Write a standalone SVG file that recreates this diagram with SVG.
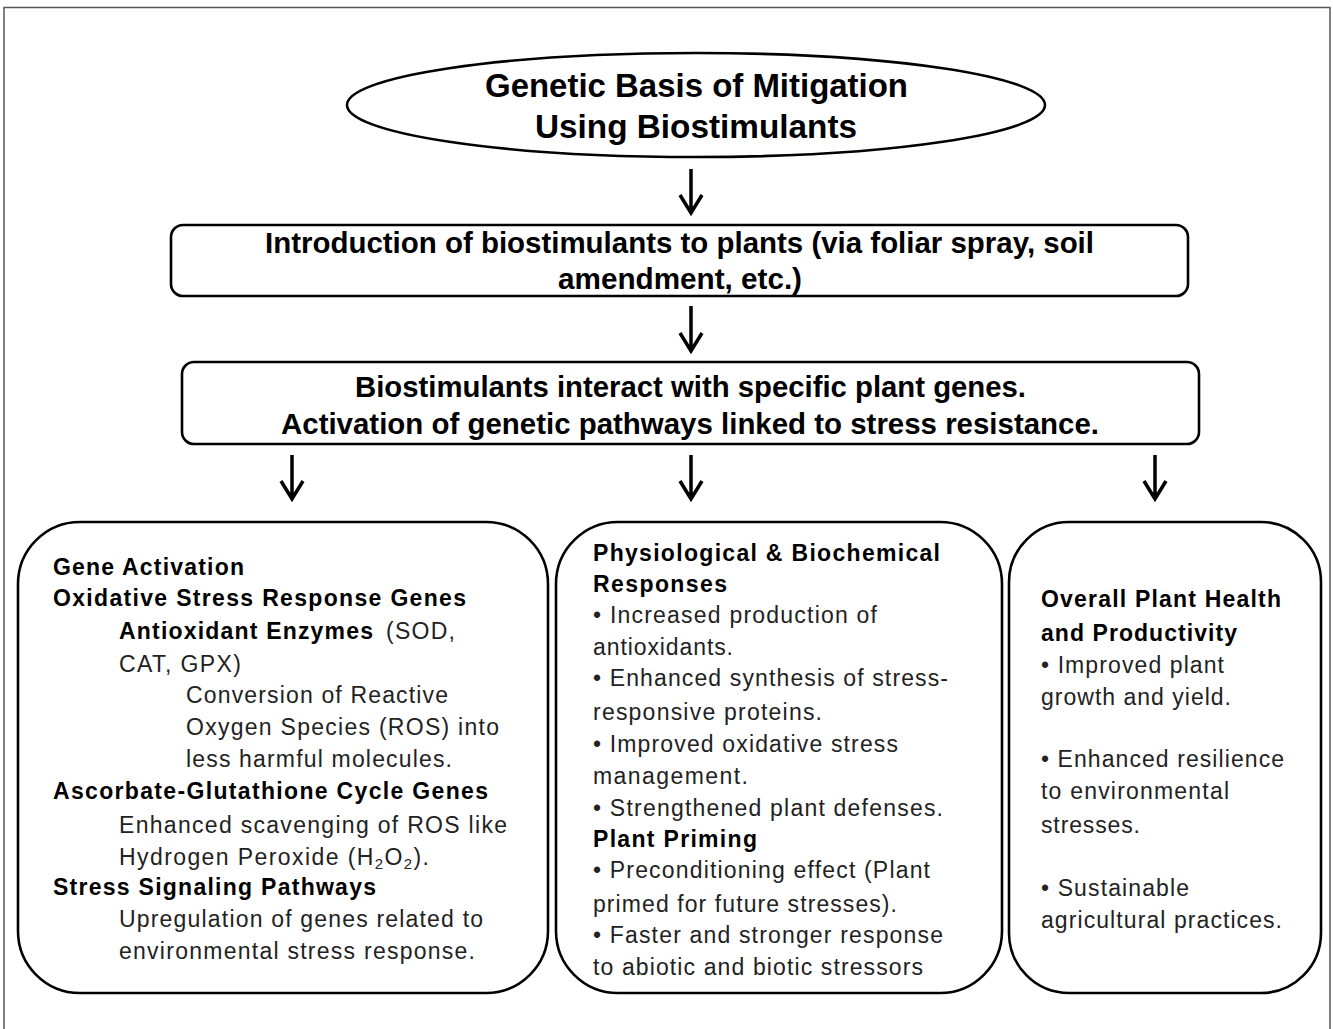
<svg xmlns="http://www.w3.org/2000/svg" width="1333" height="1029" viewBox="0 0 1333 1029">
<style>
  text { font-family: "Liberation Sans", Arial, sans-serif; }
  .frame { fill: none; stroke: #555; stroke-width: 1.5; }
  .shape { fill: #fff; stroke: #000; stroke-width: 2.6; }
  .hd { font-size: 29px; font-weight: bold; fill: #000; }
  .ttl { font-size: 33px; font-weight: bold; fill: #000; }
  .b { font-size: 23px; font-weight: bold; fill: #000; }
  .r { font-size: 23px; fill: #222; }
  .arr { fill: none; stroke: #000; stroke-width: 3.5; stroke-linecap: butt; stroke-linejoin: miter; }
</style>
<rect width="1333" height="1029" fill="#fff"/>
<rect class="frame" x="4" y="7.5" width="1326" height="1040"/>

<g id="title">
  <ellipse class="shape" cx="696" cy="105" rx="349" ry="52"/>
  <text class="ttl" x="485" y="97" textLength="423" lengthAdjust="spacingAndGlyphs">Genetic Basis of Mitigation</text>
  <text class="ttl" x="535" y="138" textLength="322" lengthAdjust="spacingAndGlyphs">Using Biostimulants</text>
</g>

<g id="introduction">
  <rect class="shape" x="171" y="225" width="1017" height="71" rx="12"/>
  <text class="hd" x="265" y="253" textLength="829" lengthAdjust="spacingAndGlyphs">Introduction of biostimulants to plants (via foliar spray, soil</text>
  <text class="hd" x="558" y="289" textLength="244" lengthAdjust="spacingAndGlyphs">amendment, etc.)</text>
</g>

<g id="interaction">
  <rect class="shape" x="182" y="362" width="1017" height="82" rx="12"/>
  <text class="hd" x="355" y="397" textLength="671" lengthAdjust="spacingAndGlyphs">Biostimulants interact with specific plant genes.</text>
  <text class="hd" x="281" y="434" textLength="818" lengthAdjust="spacingAndGlyphs">Activation of genetic pathways linked to stress resistance.</text>
</g>

<g id="gene-activation">
  <rect class="shape" x="18" y="522" width="530" height="471" rx="62"/>
  <text class="b" x="53" y="575" textLength="191">Gene Activation</text>
  <text class="b" x="53" y="606" textLength="413">Oxidative Stress Response Genes</text>
  <text class="b" x="119" y="639" textLength="254">Antioxidant Enzymes</text>
  <text class="r" x="386" y="639" textLength="69">(SOD,</text>
  <text class="r" x="119" y="672" textLength="122">CAT, GPX)</text>
  <text class="r" x="186" y="703" textLength="262">Conversion of Reactive</text>
  <text class="r" x="186" y="735" textLength="313">Oxygen Species (ROS) into</text>
  <text class="r" x="186" y="767" textLength="266">less harmful molecules.</text>
  <text class="b" x="53" y="799" textLength="435">Ascorbate-Glutathione Cycle Genes</text>
  <text class="r" x="119" y="833" textLength="388">Enhanced scavenging of ROS like</text>
  <text class="r" x="119" y="865" textLength="310">Hydrogen Peroxide (H<tspan font-size="15" dy="4">2</tspan><tspan dy="-4">O</tspan><tspan font-size="15" dy="4">2</tspan><tspan dy="-4">).</tspan></text>
  <text class="b" x="53" y="895" textLength="323">Stress Signaling Pathways</text>
  <text class="r" x="119" y="927" textLength="364">Upregulation of genes related to</text>
  <text class="r" x="119" y="959" textLength="356">environmental stress response.</text>
</g>

<g id="responses">
  <rect class="shape" x="556" y="522" width="446" height="471" rx="62"/>
  <text class="b" x="593" y="561" textLength="347">Physiological &amp; Biochemical</text>
  <text class="b" x="593" y="592" textLength="134">Responses</text>
  <text class="r" x="593" y="623" textLength="284">• Increased production of</text>
  <text class="r" x="593" y="655" textLength="140">antioxidants.</text>
  <text class="r" x="593" y="686" textLength="355">• Enhanced synthesis of stress-</text>
  <text class="r" x="593" y="720" textLength="229">responsive proteins.</text>
  <text class="r" x="593" y="752" textLength="305">• Improved oxidative stress</text>
  <text class="r" x="593" y="784" textLength="155">management.</text>
  <text class="r" x="593" y="816" textLength="350">• Strengthened plant defenses.</text>
  <text class="b" x="593" y="847" textLength="164">Plant Priming</text>
  <text class="r" x="593" y="878" textLength="337">• Preconditioning effect (Plant</text>
  <text class="r" x="593" y="912" textLength="304">primed for future stresses).</text>
  <text class="r" x="593" y="943" textLength="350">• Faster and stronger response</text>
  <text class="r" x="593" y="975" textLength="330">to abiotic and biotic stressors</text>
</g>

<g id="overall-health">
  <rect class="shape" x="1009" y="522" width="312" height="471" rx="60"/>
  <text class="b" x="1041" y="607" textLength="240">Overall Plant Health</text>
  <text class="b" x="1041" y="641" textLength="196">and Productivity</text>
  <text class="r" x="1041" y="673" textLength="183">• Improved plant</text>
  <text class="r" x="1041" y="705" textLength="190">growth and yield.</text>
  <text class="r" x="1041" y="767" textLength="243">• Enhanced resilience</text>
  <text class="r" x="1041" y="799" textLength="188">to environmental</text>
  <text class="r" x="1041" y="833" textLength="99">stresses.</text>
  <text class="r" x="1041" y="896" textLength="148">• Sustainable</text>
  <text class="r" x="1041" y="928" textLength="241">agricultural practices.</text>
</g>

<g id="connectors">
  <path class="arr" d="M691 169 V213 M680 195 L691 213 L702 195"/>
  <path class="arr" d="M691 306 V351 M680 333 L691 351 L702 333"/>
  <path class="arr" d="M292 455 V499 M281 481 L292 499 L303 481"/>
  <path class="arr" d="M691 455 V499 M680 481 L691 499 L702 481"/>
  <path class="arr" d="M1155 455 V499 M1144 481 L1155 499 L1166 481"/>
</g>
</svg>
